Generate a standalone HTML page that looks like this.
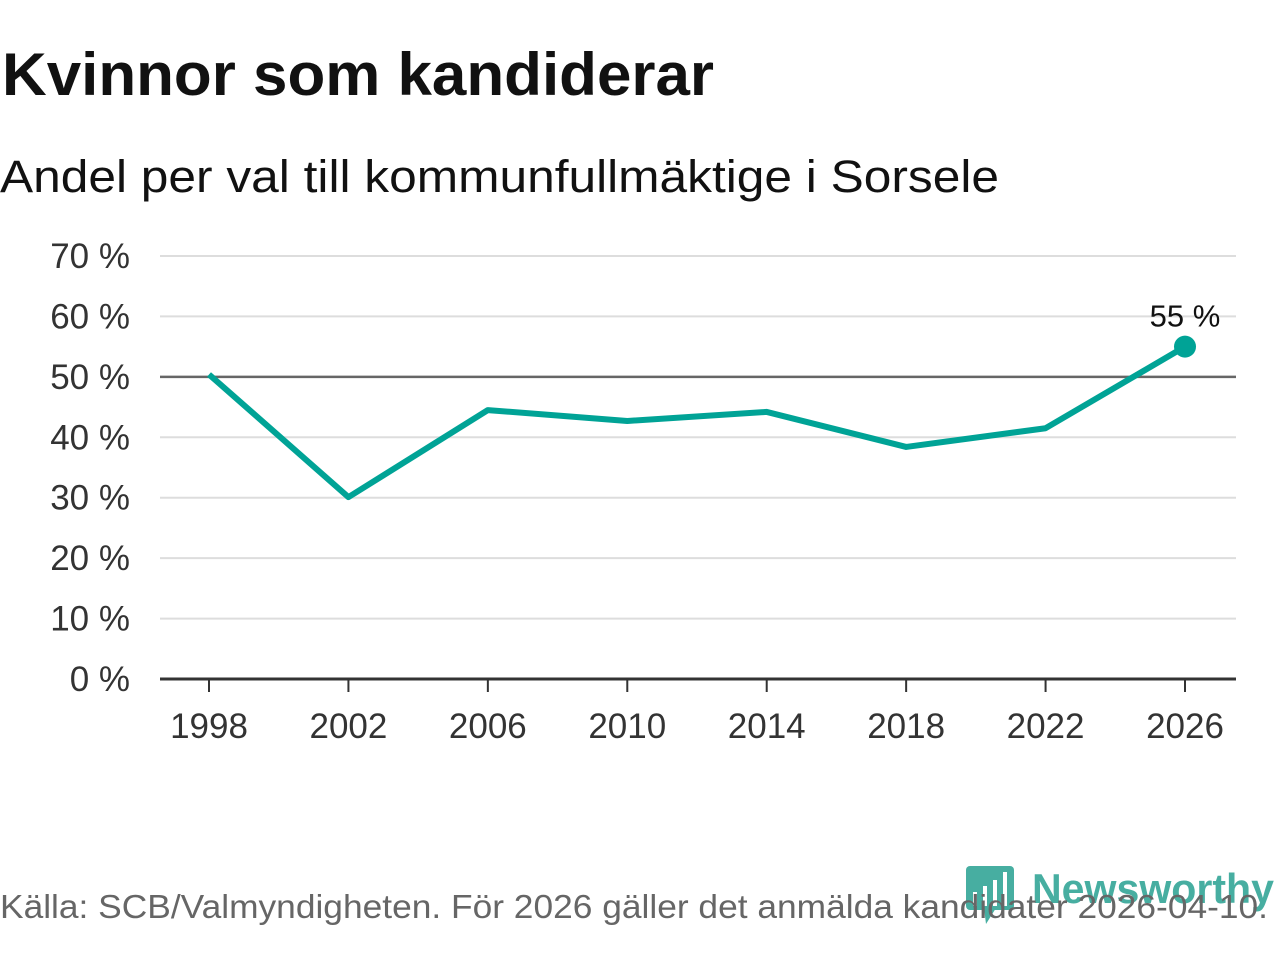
<!DOCTYPE html>
<html><head><meta charset="utf-8"><style>
body{margin:0;width:1280px;height:960px;background:#fff;overflow:hidden;font-family:"Liberation Sans",sans-serif}
</style></head><body>
<svg width="1280" height="960" xmlns="http://www.w3.org/2000/svg" font-family="Liberation Sans, sans-serif">
<text x="2" y="95" font-size="60" font-weight="bold" fill="#111" textLength="712" lengthAdjust="spacingAndGlyphs">Kvinnor som kandiderar</text>
<text x="0" y="192" font-size="45" fill="#111" textLength="999" lengthAdjust="spacingAndGlyphs">Andel per val till kommunfullmäktige i Sorsele</text>
<g id="grid"></g><g id="yticks"></g><g id="xticks"></g><g id="series"></g>
<g opacity="0.8">
<rect x="966" y="866" width="48" height="44" rx="4" fill="#1a9a8a"/>
<polygon points="984,908 996,908 986,924" fill="#1a9a8a"/>
<rect x="973" y="892" width="4" height="14" fill="#fff"/><rect x="983" y="886" width="4" height="20" fill="#fff"/><rect x="993" y="880" width="4" height="26" fill="#fff"/><rect x="1003" y="872" width="4" height="34" fill="#fff"/>
<text x="1032" y="903" font-size="42" font-weight="bold" fill="#1a9a8a" textLength="242" lengthAdjust="spacingAndGlyphs">Newsworthy</text>
</g>
<text x="0" y="918" font-size="33" fill="#666" textLength="1268" lengthAdjust="spacingAndGlyphs">Källa: SCB/Valmyndigheten. För 2026 gäller det anmälda kandidater 2026-04-10.</text>
</svg>
<script>
const years=[1998,2002,2006,2010,2014,2018,2022,2026];
const values=[50.4,30.1,44.5,42.7,44.2,38.4,41.5,55];
const yTicks=[0,10,20,30,40,50,60,70];
const ns="http://www.w3.org/2000/svg";
const x=v=>209+(v-1998)*(1185-209)/28;
const y=v=>679-v*(679-256)/70;
function mk(t,a,p){const e=document.createElementNS(ns,t);for(const k in a)e.setAttribute(k,a[k]);p.appendChild(e);return e;}
const g=document.getElementById('grid'),yt=document.getElementById('yticks'),xt=document.getElementById('xticks'),s=document.getElementById('series');
yTicks.forEach(v=>{
 const l=mk('line',{x1:160,x2:1236,y1:y(v),y2:y(v),stroke:v===50?'#666':(v===0?'#333':'#ddd'),'stroke-width':v===0?3:(v===50?2.5:2)},g);
 
 
 const t=mk('text',{x:130,y:y(v)+12,'text-anchor':'end','font-size':35,fill:'#333'},yt);t.textContent=v+' %';
 
 
});
years.forEach(v=>{
 const l=mk('line',{x1:x(v),x2:x(v),y1:679,y2:692,stroke:'#333','stroke-width':2},xt);
 
 
 const t=mk('text',{x:x(v),y:738,'text-anchor':'middle','font-size':35,fill:'#333'},xt);t.textContent=v;
 
 
});
const p=mk('polyline',{points:years.map((v,i)=>x(v)+','+y(values[i])).join(' '),fill:'none',stroke:'#00a396','stroke-width':6,'stroke-linejoin':'round'},s);


const n=years.length-1;
const c=mk('circle',{cx:x(years[n]),cy:y(values[n]),r:11,fill:'#00a396'},s);


const lb=mk('text',{x:x(years[n]),y:y(values[n])-20,'text-anchor':'middle','font-size':31,fill:'#111'},s);lb.textContent=Math.round(values[n])+' %';


</script>
</body></html>
